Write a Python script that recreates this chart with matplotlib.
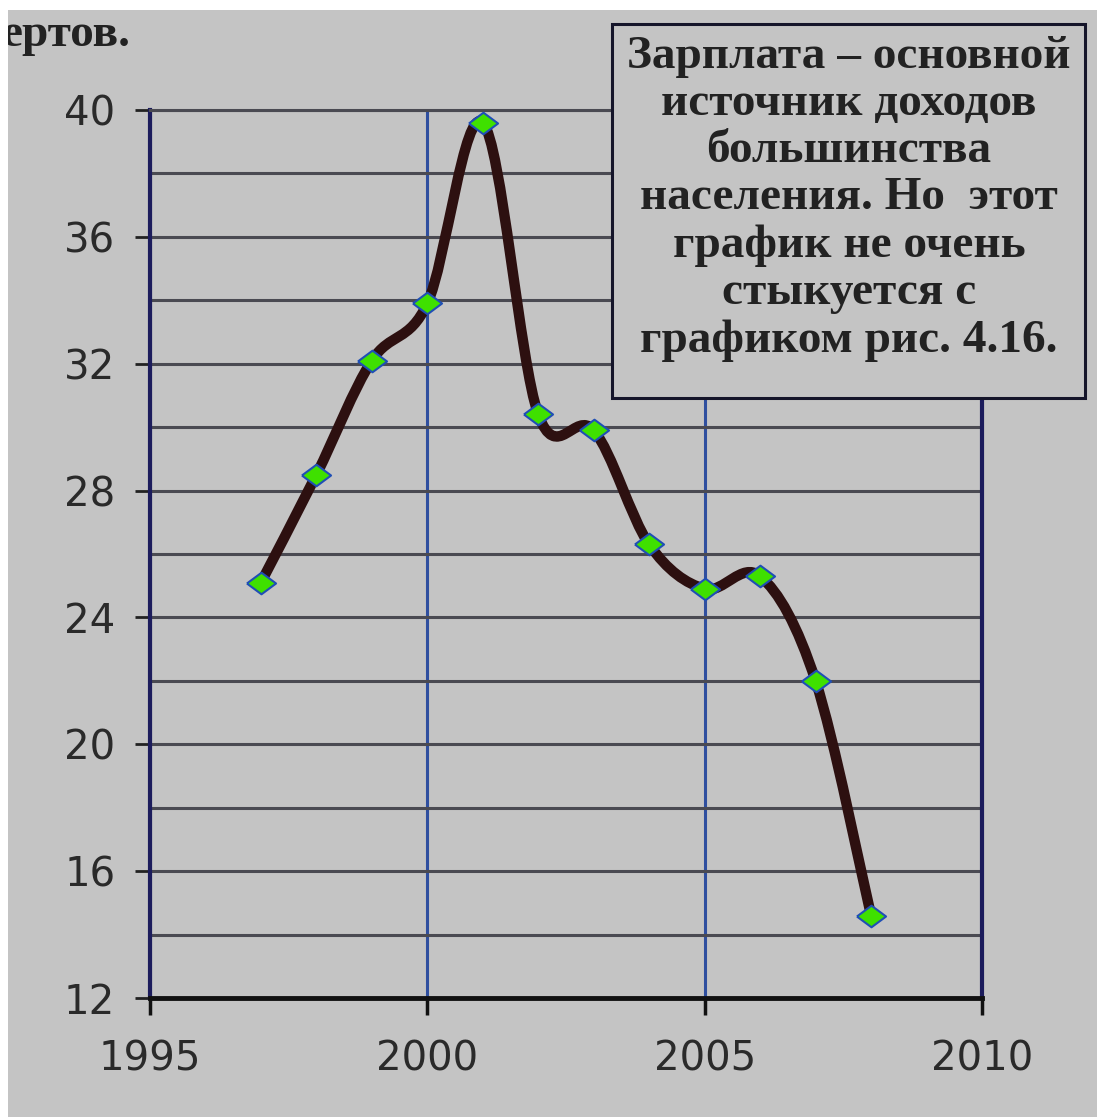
import numpy as np
import matplotlib.pyplot as plt
from matplotlib.path import Path
from matplotlib.patches import PathPatch, Rectangle
from matplotlib.ticker import MultipleLocator

# данные (зарплата, доля в доходах, %)
years = [1997, 1998, 1999, 2000, 2001, 2002, 2003, 2004, 2005, 2006, 2007, 2008]
values = [25.1, 28.5, 32.1, 33.9, 39.6, 30.4, 29.9, 26.3, 24.9, 25.3, 22.0, 14.6]
x_ticks = [1995, 2000, 2005, 2010]
y_ticks = [12, 16, 20, 24, 28, 32, 36, 40]

note = ("Зарплата – основной\nисточник доходов\nбольшинства\n"
        "населения. Но  этот\nграфик не очень\nстыкуется с\nграфиком рис. 4.16.")
corner = "ертов."

W, H = 1106, 1117
BG = '#c4c4c4'


def fx(x):
    return x / W


def fy(y):
    return 1 - y / H


def smooth_path(xs, ys):
    # сглаженная линия как в Excel (Catmull-Rom -> Bezier)
    p = np.column_stack([xs, ys]).astype(float)
    ext = np.vstack([p[0], p, p[-1]])
    verts = [p[0]]
    codes = [Path.MOVETO]
    for i in range(len(p) - 1):
        p0, p1, p2, p3 = ext[i], ext[i + 1], ext[i + 2], ext[i + 3]
        c1 = p1 + (p2 - p0) / 6
        c2 = p2 - (p3 - p1) / 6
        verts += [c1, c2, p2]
        codes += [Path.CURVE4] * 3
    return Path(verts, codes)


fig = plt.figure(figsize=(W / 100, H / 100), dpi=100, facecolor=BG)
ax = fig.add_axes([fx(150), fy(998), (982 - 150) / W, (998 - 110) / H])
ax.set_facecolor(BG)
ax.set_xlim(1995, 2010)
ax.set_ylim(12, 40)
ax.set_xticks(x_ticks)
ax.set_yticks(y_ticks)
ax.yaxis.set_minor_locator(MultipleLocator(2))
ax.set_axisbelow(True)

ax.grid(axis='y', which='both', color='#4a4a52', lw=2.2)
ax.grid(axis='x', which='major', color='#2f4f9f', lw=2.2)
ax.tick_params(axis='y', which='minor', length=0)
ax.tick_params(axis='y', which='major', length=11, width=2, color='#222222',
               pad=14, labelsize=29, labelcolor='#2a2a2a')
ax.tick_params(axis='x', length=12, width=2.5, color='#111111',
               pad=18, labelsize=29, labelcolor='#2a2a2a')
for lab in ax.get_xticklabels() + ax.get_yticklabels():
    lab.set_family('DejaVu Sans')

for s in ['left', 'right']:
    ax.spines[s].set_color('#1c1c5c')
    ax.spines[s].set_linewidth(3)
ax.spines['bottom'].set_color('#111111')
ax.spines['bottom'].set_linewidth(3.5)
ax.spines['top'].set_color('#4a4a52')
ax.spines['top'].set_linewidth(2.2)

ax.add_patch(PathPatch(smooth_path(years, values), fill=False, lw=7.5,
                       edgecolor='#2d1010', capstyle='round',
                       joinstyle='round', zorder=3))
diamond = [(-1.35, 0), (0, 1), (1.35, 0), (0, -1), (-1.35, 0)]
ax.plot(years, values, ls='none', marker=diamond, ms=21, mfc='#3fe000',
        mec='#1f4fb5', mew=1.5, zorder=4)

# рамка с примечанием
fig.add_artist(Rectangle((fx(612), fy(398)), (1085 - 612) / W, (398 - 24) / H,
                         transform=fig.transFigure, facecolor=BG,
                         edgecolor='#15152a', lw=2.2, zorder=5))
fig.text(fx(849), fy(199), note, ha='center', va='center', fontsize=34,
         family='Liberation Serif', weight='bold', linespacing=1.16,
         color='#222222', zorder=6)

fig.text(fx(1), fy(46), corner, ha='left', va='baseline', fontsize=34,
         family='Liberation Serif', weight='bold', color='#222222', zorder=6)

# белые края фотографии
for r in [(0, fy(10), 1, 10 / H), (0, 0, 8 / W, 1), (fx(1097), 0, 9 / W, 1)]:
    fig.add_artist(Rectangle(r[:2], r[2], r[3], transform=fig.transFigure,
                             facecolor='white', edgecolor='none', zorder=20))

fig.savefig('out.png', dpi=100, facecolor=BG)
